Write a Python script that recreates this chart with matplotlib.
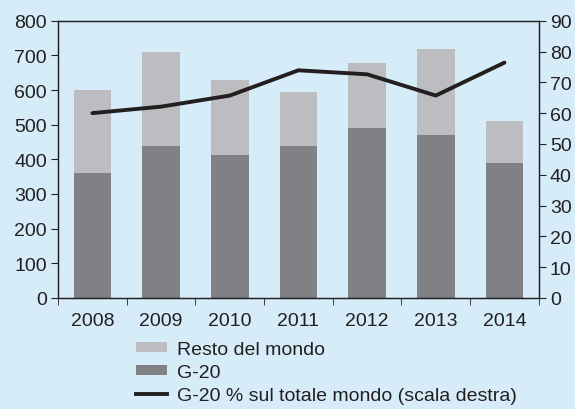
import numpy as np
import matplotlib.pyplot as plt
from matplotlib.lines import Line2D
from matplotlib.patches import Patch

plt.rcParams['font.family'] = ['Liberation Sans', 'DejaVu Sans']

years = ['2008', '2009', '2010', '2011', '2012', '2013', '2014']
g20 = [360, 438, 413, 438, 490, 471, 389]
totale = [600, 709, 629, 593, 679, 719, 510]
quota_g20 = [60.0, 62.1, 65.7, 73.9, 72.6, 65.7, 76.4]

resto = [t - g for t, g in zip(totale, g20)]

bg = '#d6ecf9'
light = '#bcbdc1'
dark = '#808184'
axcol = '#231f20'

fig = plt.figure(figsize=(5.75, 4.10), dpi=100, facecolor=bg)
ax = fig.add_axes([0.101, 0.271, 0.836, 0.676], facecolor=bg)
x = np.arange(len(years))
ax.bar(x, g20, width=0.55, color=dark, zorder=2)
ax.bar(x, resto, bottom=g20, width=0.55, color=light, zorder=2)
ax.set_xlim(-0.5, len(years) - 0.5)
ax.set_ylim(0, 800)
ax.set_yticks(range(0, 801, 100))
ax.set_xticks(x)
ax.set_xticklabels(years)
ax.set_xticks(np.arange(-0.5, len(years), 1), minor=True)
ax.tick_params(axis='x', which='major', length=0, labelsize=14, colors=axcol, pad=10)
ax.tick_params(axis='x', which='minor', length=5, direction='out', color=axcol)
ax.tick_params(axis='y', length=5, direction='out', labelsize=14, colors=axcol, pad=3)

ax2 = ax.twinx()
ax2.plot(x, quota_g20, color=axcol, lw=2.8, solid_capstyle='round', zorder=3)
ax2.set_ylim(0, 90)
ax2.set_yticks(range(0, 91, 10))
ax2.tick_params(axis='y', length=5, direction='out', labelsize=14, colors=axcol, pad=3)

for a in (ax, ax2):
    for s in a.spines.values():
        s.set_color(axcol)
        s.set_linewidth(0.9)

handles = [
    Patch(facecolor=light, edgecolor='none'),
    Patch(facecolor=dark, edgecolor='none'),
    Line2D([0], [0], color=axcol, lw=2.8),
]
labels = ['Resto del mondo', 'G-20', 'G-20 % sul totale mondo (scala destra)']
fig.legend(handles, labels, loc='upper left', bbox_to_anchor=(0.2365, 0.166),
           frameon=False, fontsize=14, handlelength=1.6, handleheight=0.4,
           labelspacing=0.32, handletextpad=0.5, borderaxespad=0, borderpad=0,
           labelcolor=axcol)

fig.savefig('out.png', dpi=100, facecolor=bg)
